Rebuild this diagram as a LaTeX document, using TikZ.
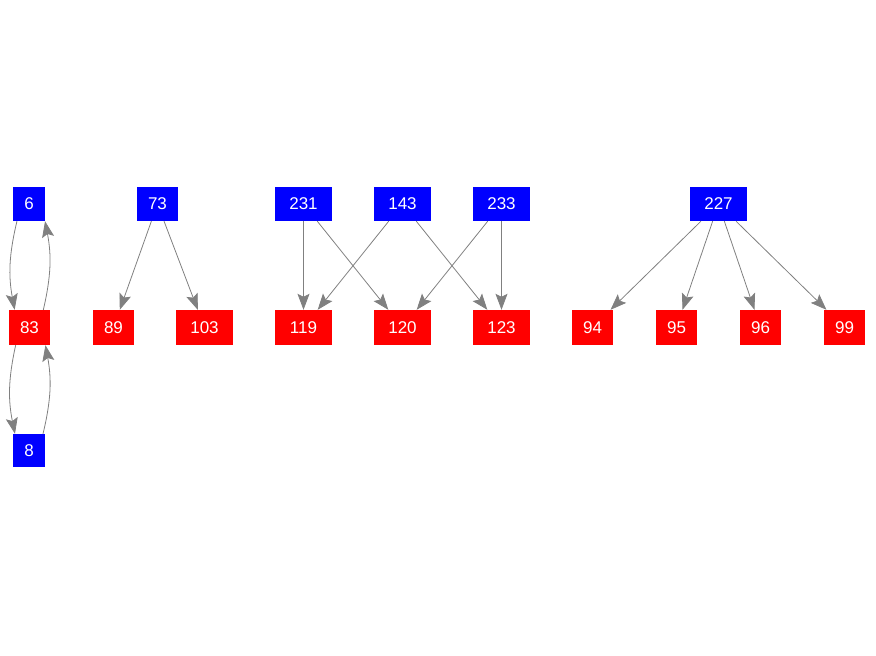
\documentclass[tikz,border=0pt]{standalone}
\usepackage{fontspec}
\setmainfont{Liberation Sans}
\usetikzlibrary{arrows.meta}
\definecolor{nblue}{RGB}{0,0,255}
\definecolor{nred}{RGB}{255,0,0}
\definecolor{egray}{RGB}{128,128,128}
\begin{document}
\begin{tikzpicture}[x=1pt,y=-1pt,
  box/.style={inner sep=0pt, text=white, minimum height=34pt, font=\fontsize{17}{19}\selectfont},
  bbox/.style={box, fill=nblue},
  rbox/.style={box, fill=nred},
  wd/.style={minimum width=#1},
  edge/.style={draw=egray, line width=0.8pt, -{Stealth[length=16pt,width=12pt,inset=3pt,fill=egray]}}
]
\useasboundingbox (0,0) rectangle (876,656);
% blue nodes
\node[bbox,wd=32pt] (n6) at (29,204) {6};
\node[bbox,wd=32pt,minimum height=33pt] (n8) at (29,450.5) {8};
\node[bbox,wd=41pt] (n73) at (157.5,204) {73};
\node[bbox,wd=57pt] (n231) at (303.5,204) {231};
\node[bbox,wd=57pt] (n143) at (402.5,204) {143};
\node[bbox,wd=57pt] (n233) at (501.5,204) {233};
\node[bbox,wd=57pt] (n227) at (718.5,204) {227};
% red nodes
\node[rbox,wd=41pt,minimum height=35pt] (n83) at (29.5,327.5) {83};
\node[rbox,wd=41pt,minimum height=35pt] (n89) at (113.5,327.5) {89};
\node[rbox,wd=57pt,minimum height=35pt] (n103) at (204.5,327.5) {103};
\node[rbox,wd=57pt,minimum height=35pt] (n119) at (303.5,327.5) {119};
\node[rbox,wd=57pt,minimum height=35pt] (n120) at (402.5,327.5) {120};
\node[rbox,wd=57pt,minimum height=35pt] (n123) at (501.5,327.5) {123};
\node[rbox,wd=41pt,minimum height=35pt] (n94) at (592.5,327.5) {94};
\node[rbox,wd=41pt,minimum height=35pt] (n95) at (676.5,327.5) {95};
\node[rbox,wd=41pt,minimum height=35pt] (n96) at (760.5,327.5) {96};
\node[rbox,wd=41pt,minimum height=35pt] (n99) at (844.5,327.5) {99};
% curved edges
\draw[edge] (n6.235) to[bend right=12] (n83.130);
\draw[edge] (n83.52) to[bend right=12] (n6.313);
\draw[edge] (n83.232) to[bend right=12] (n8.130);
\draw[edge] (n8.50) to[bend right=12] (n83.312);
% straight edges
\draw[edge] (n73) -- (n89);
\draw[edge] (n73) -- (n103);
\draw[edge] (n231) -- (n119);
\draw[edge] (n231) -- (n120);
\draw[edge] (n143) -- (n119);
\draw[edge] (n143) -- (n123);
\draw[edge] (n233) -- (n120);
\draw[edge] (n233) -- (n123);
\draw[edge] (n227) -- (n94);
\draw[edge] (n227) -- (n95);
\draw[edge] (n227) -- (n96);
\draw[edge] (n227) -- (n99);
\end{tikzpicture}
\end{document}
